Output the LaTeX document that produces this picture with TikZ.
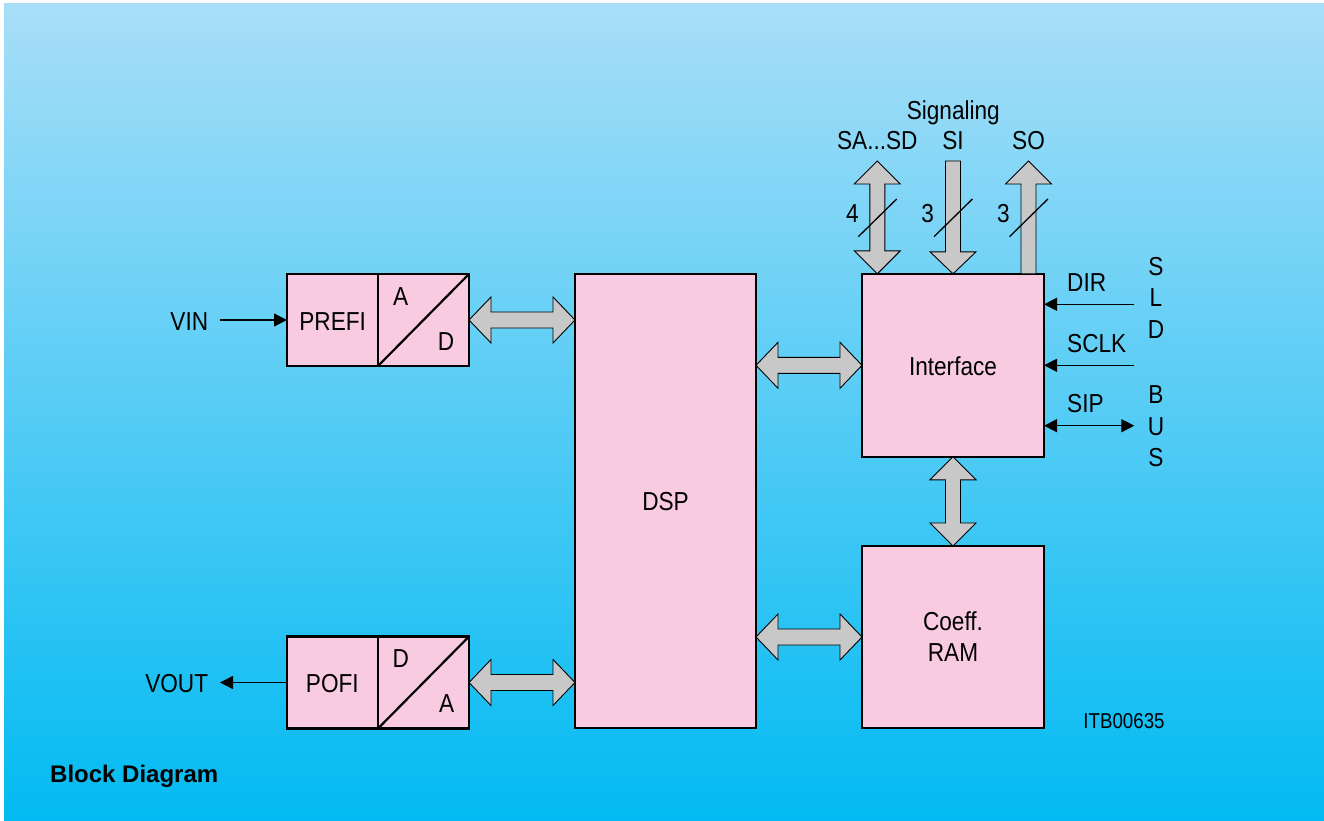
\documentclass[tikz,border=0pt]{standalone}
\usepackage{fontspec}
\setmainfont{Liberation Sans}[FakeStretch=0.87]
\newfontfamily\titlefont{Liberation Sans}
\usetikzlibrary{arrows.meta,calc}
\definecolor{pinkfill}{RGB}{248,203,224}
\definecolor{busgrey}{RGB}{200,200,200}
\definecolor{bgtop}{RGB}{168,222,248}
\definecolor{bgbot}{RGB}{0,186,242}
\newcommand\hbus[2]{\draw[bus] (#1) -- ($(#1)+(22,-23)$) -- ($(#1)+(22,-8)$) -- ($(#2)+(-22,-8)$) -- ($(#2)+(-22,-23)$) -- (#2) -- ($(#2)+(-22,23)$) -- ($(#2)+(-22,8)$) -- ($(#1)+(22,8)$) -- ($(#1)+(22,23)$) -- cycle;}
\newcommand\vbus[2]{\draw[bus] (#1) -- ($(#1)+(23,23)$) -- ($(#1)+(7.5,23)$) -- ($(#2)+(7.5,-23)$) -- ($(#2)+(23,-23)$) -- (#2) -- ($(#2)+(-23,-23)$) -- ($(#2)+(-7.5,-23)$) -- ($(#1)+(-7.5,23)$) -- ($(#1)+(-23,23)$) -- cycle;}
\begin{document}
\begin{tikzpicture}[x=1pt,y=-1pt,
  blk/.style={draw=black, fill=pinkfill, line width=2.6pt, inner sep=0pt, outer sep=0pt},
  bus/.style={draw=black, fill=busgrey, line width=0.9pt, line join=miter},
  tip/.tip={Triangle[length=13pt,width=13pt]},
  sig/.style={line width=1.3pt, -tip},
  sigb/.style={line width=1.3pt, tip-tip},
  lbl/.style={font=\fontsize{26}{30}\selectfont, inner sep=0pt, anchor=base},
  lblw/.style={lbl, anchor=base west},
  slash/.style={line width=1.3pt}]
\useasboundingbox (0,0) rectangle (1324,821);
\fill[bgbot] (4,4) rectangle (1340,840);
\shade[top color=bgtop, bottom color=bgbot] (4,4) rectangle (1334,831);

% blocks
\node[blk, minimum width=91pt, minimum height=92pt] (prefi) at (332.5,320) {};
\node[blk, minimum width=91pt, minimum height=92pt] (adc) at (423.5,320) {};
\node[blk, minimum width=91pt, minimum height=92pt] (pofi) at (332.5,682.5) {};
\node[blk, minimum width=91pt, minimum height=92pt] (dac) at (423.5,682.5) {};
\node[blk, minimum width=181pt, minimum height=454pt] (dsp) at (665.5,501) {};
\node[blk, minimum width=182pt, minimum height=183pt] (iface) at (953,365.3) {};
\node[blk, minimum width=182pt, minimum height=182pt] (ram) at (953,637) {};
\draw[line width=2.2pt] (adc.south west) -- (adc.north east);
\draw[line width=2.2pt] (dac.south west) -- (dac.north east);

% block texts
\node[lbl] (tprefi) at (332.7,330) {PREFI};
\node[lbl] (ta1) at (400.7,305) {A};
\node[lbl] (td1) at (446,350) {D};
\node[lbl] (tpofi) at (332.3,692.7) {POFI};
\node[lbl] (td2) at (400.7,667.3) {D};
\node[lbl] (ta2) at (446.7,712.7) {A};
\node[lbl] (tdsp) at (665.5,510.5) {DSP};
\node[lbl] (tiface) at (953,375) {Interface};
\node[lbl] (tcoeff) at (953,630) {Coeff.};
\node[lbl] (tram) at (953,661.7) {RAM};

% bus arrows
\coordinate (b1a) at (adc.east);
\coordinate (b1b) at (adc.east -| dsp.west);
\hbus{b1a}{b1b}
\coordinate (b2a) at (dac.east);
\coordinate (b2b) at (dac.east -| dsp.west);
\hbus{b2a}{b2b}
\coordinate (b3a) at (dsp.east |- iface.west);
\coordinate (b3b) at (iface.west);
\hbus{b3a}{b3b}
\coordinate (b4a) at (dsp.east |- ram.west);
\coordinate (b4b) at (ram.west);
\hbus{b4a}{b4b}
\coordinate (b5a) at (iface.south);
\coordinate (b5b) at (ram.north);
\vbus{b5a}{b5b}

% top signaling arrows
\coordinate (satop) at (877.3,161);
\coordinate (sabot) at (satop |- iface.north);
\vbus{satop}{sabot}
\coordinate (sitop) at (953,161);
\coordinate (sibot) at (sitop |- iface.north);
\draw[bus] ($(sitop)+(-7.5,0)$) -- ($(sitop)+(7.5,0)$) -- ($(sibot)+(7.5,-22)$) -- ($(sibot)+(23,-22)$) -- (sibot) -- ($(sibot)+(-23,-22)$) -- ($(sibot)+(-7.5,-22)$) -- cycle;
\coordinate (sotop) at (1028.5,161);
\coordinate (sobot) at (sotop |- iface.north);
\draw[bus] (sotop) -- ($(sotop)+(23,23)$) -- ($(sotop)+(7.5,23)$) -- ($(sobot)+(7.5,0)$) -- ($(sobot)+(-7.5,0)$) -- ($(sotop)+(-7.5,23)$) -- ($(sotop)+(-23,23)$) -- cycle;
\draw[slash] ($(satop)+(-19,75.7)$) -- ($(satop)+(19.4,38)$);
\draw[slash] ($(sitop)+(-19,75.7)$) -- ($(sitop)+(19.4,38)$);
\draw[slash] ($(sotop)+(-19,75.7)$) -- ($(sotop)+(19.4,38)$);
\node[lbl] (n4) at (852.3,222.3) {4};
\node[lbl] (n3a) at (927.7,222.3) {3};
\node[lbl] (n3b) at (1003.3,222.3) {3};
\node[lbl] (tsig) at (953.3,119.3) {Signaling};
\node[lbl] (tsa) at (877.3,150) {SA...SD};
\node[lbl] (tsi) at (953,150) {SI};
\node[lbl] (tso) at (1028.5,150) {SO};

% right side signals
\coordinate (dirS) at (1134.3,304.3);
\draw[sig] (dirS) -- (dirS -| iface.east);
\coordinate (sclkS) at (1134.3,365.3);
\draw[sig] (sclkS) -- (sclkS -| iface.east);
\coordinate (sipS) at (1134.3,425.7);
\draw[sigb] (sipS -| iface.east) -- (sipS);
\node[lblw] (tdir) at (1067,291.7) {DIR};
\node[lblw] (tsclk) at (1067,352.7) {SCLK};
\node[lblw] (tsip) at (1067,412.7) {SIP};
\node[lbl] (s1) at (1156,275) {S};
\node[lbl] (l1) at (1156,306.7) {L};
\node[lbl] (d1) at (1156,338.3) {D};
\node[lbl] (b2) at (1156,403.3) {B};
\node[lbl] (u2) at (1156,435) {U};
\node[lbl] (s2) at (1156,466.7) {S};

% VIN / VOUT
\coordinate (vinS) at (220,320);
\draw[sig] (vinS) -- (prefi.west);
\node[lbl] (tvin) at (189.3,330) {VIN};
\coordinate (voutE) at (220,682.5);
\draw[sig] (pofi.west) -- (voutE);
\node[lbl] (tvout) at (176.7,692.5) {VOUT};

\node[lbl, font=\fontsize{21.5}{25}\selectfont] (itb) at (1124,728.3) {ITB00635};
\node[inner sep=0pt, anchor=base west, font=\titlefont\bfseries\fontsize{24}{28}\selectfont] (title) at (50,782.3) {Block Diagram};
\end{tikzpicture}
\end{document}
